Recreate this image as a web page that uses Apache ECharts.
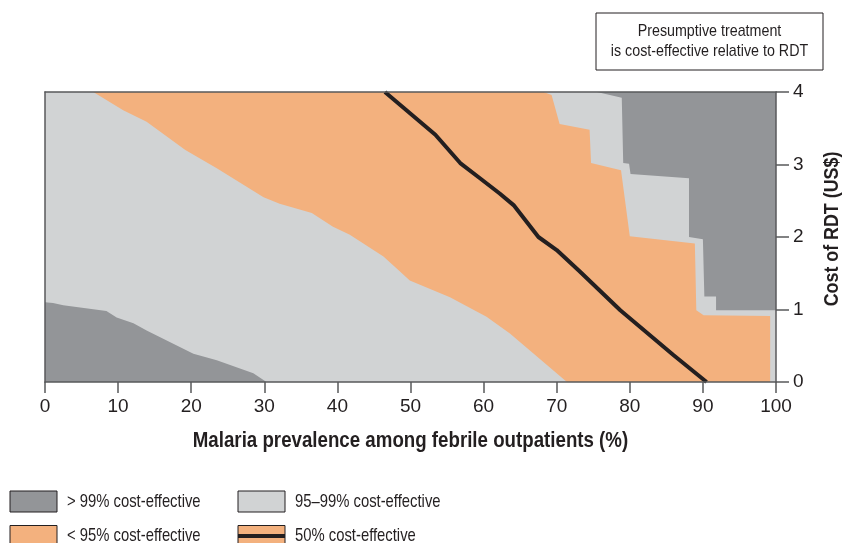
<!DOCTYPE html>
<html>
<head>
<meta charset="utf-8">
<script src="https://cdn.jsdelivr.net/npm/echarts@6/dist/echarts.min.js"></script>
<style>
  html, body { margin: 0; padding: 0; background: #fff; }
  #main { width: 845px; height: 543px; }
</style>
</head>
<body>
<div id="main"></div>
<script>
// x = malaria prevalence (%), y = cost of RDT (US$)
var xTicks = [0, 10, 20, 30, 40, 50, 60, 70, 80, 90, 100];
var yTicks = [0, 1, 2, 3, 4];

// 95-99% region covers the whole plot, the others sit on top of it
var band95 = [[0, 0], [100, 0], [100, 4], [0, 4]];

// <95% region: lower-left edge (top -> bottom) and right edge (top -> bottom)
var orangeLeft = [[6.6, 4], [10.7, 3.75], [13.9, 3.59], [19.2, 3.2], [23.5, 2.95], [29.9, 2.55],
  [32.1, 2.46], [36.5, 2.33], [39.4, 2.14], [41.7, 2.03], [46.3, 1.73], [48.6, 1.52],
  [49.9, 1.40], [55.4, 1.17], [60.4, 0.90], [63.6, 0.67], [71.4, 0]];
var orangeRight = [[68.2, 4], [69.3, 3.96], [70.4, 3.56], [74.5, 3.48], [74.7, 3.02], [78.8, 2.92],
  [80.0, 2.01], [88.9, 1.91], [89.1, 0.99], [90.1, 0.92], [99.2, 0.91], [99.2, 0]];

// >99% regions
var darkRight = [[75.5, 4], [78.9, 3.92], [79.1, 3.02], [79.9, 3.01], [80.1, 2.87], [88.1, 2.81],
  [88.1, 2.0], [90.0, 1.97], [90.2, 1.18], [91.8, 1.18], [91.8, 0.99], [100, 0.99], [100, 4]];
var darkLeft = [[0, 1.10], [1.1, 1.09], [2.5, 1.06], [8.4, 0.98], [9.8, 0.89], [12.1, 0.81],
  [13.9, 0.71], [20.3, 0.39], [23.5, 0.30], [28.5, 0.12], [30.3, 0], [0, 0]];

// 50% cost-effective line
var line50 = [[46.5, 4], [48.6, 3.82], [53.4, 3.41], [56.8, 3.02], [59.5, 2.81], [62.2, 2.60],
  [64.1, 2.44], [67.5, 2.0], [70.0, 1.82], [73.2, 1.52], [78.7, 0.99], [86.0, 0.37], [90.5, 0]];

var legendNames = ['> 99% cost-effective', '95–99% cost-effective', '< 95% cost-effective', '50% cost-effective'];

var cDark = '#939598', cLight = '#d1d3d4', cOrange = '#f3b17e', cInk = '#231f20', cAxis = '#58595b';
var font = '"Liberation Sans", Arial, sans-serif';

var orangePoly = orangeLeft.concat(orangeRight.slice().reverse());

function polySeries(name, pts, color) {
  return {
    type: 'custom',
    name: name,
    silent: true,
    clip: true,
    data: pts,
    encode: { x: 0, y: 1 },
    renderItem: function(params, api) {
      if (params.dataIndex !== 0) return null;
      return {
        type: 'polygon',
        shape: { points: pts.map(function(p) { return api.coord(p); }) },
        style: { fill: color }
      };
    }
  };
}

// condensed-looking text: squeeze a normal face horizontally
function narrowText(x, y, t, size, opts) {
  opts = opts || {};
  return {
    type: 'text', x: x, y: y, scaleX: opts.sx || 0.82, rotation: opts.rot || 0,
    style: { text: t, font: (opts.bold ? 'bold ' : '') + size + 'px ' + font, fill: cInk,
      align: opts.align || 'left', verticalAlign: 'middle', lineHeight: opts.lh || size }
  };
}

function box(x, y, w, h, text) {
  return {
    type: 'group',
    children: [
      { type: 'rect', shape: { x: x, y: y, width: w, height: h },
        style: { fill: '#fff', stroke: cInk, lineWidth: 1 } },
      narrowText(x + w / 2, y + h / 2, text, 17, { align: 'center', lh: 20, sx: 0.84 })
    ]
  };
}

function swatch(x, y, color, withLine) {
  var kids = [{ type: 'rect', shape: { x: x, y: y, width: 47, height: 21 },
    style: { fill: color, stroke: cInk, lineWidth: 1 } }];
  if (withLine) {
    kids.push({ type: 'rect', shape: { x: x, y: y + 8.5, width: 47, height: 4 }, style: { fill: cInk } });
  }
  return { type: 'group', children: kids };
}

var chart = echarts.init(document.getElementById('main'));
var option = {
  animation: false,
  grid: { left: 45, right: 69, top: 92, bottom: 161, outerBoundsMode: 'none', containLabel: false },
  xAxis: [{
    type: 'value', min: 0, max: 100, interval: 10, position: 'bottom', z: 10,
    axisLine: { show: true, onZero: false, lineStyle: { color: cAxis, width: 1.5 } },
    axisTick: { show: true, length: 11, lineStyle: { color: cAxis, width: 1.5 } },
    axisLabel: { fontFamily: font, fontSize: 19, color: cInk, margin: 15,
      formatter: function(v) { return xTicks.indexOf(v) >= 0 ? String(v) : ''; } },
    splitLine: { show: false }
  }, {
    type: 'value', min: 0, max: 100, position: 'top', z: 10,
    axisLine: { show: true, onZero: false, lineStyle: { color: cAxis, width: 1.5 } },
    axisTick: { show: false }, axisLabel: { show: false }, splitLine: { show: false }
  }],
  yAxis: [{
    type: 'value', min: 0, max: 4, interval: 1, position: 'right', z: 10,
    axisLine: { show: true, onZero: false, lineStyle: { color: cAxis, width: 1.5 } },
    axisTick: { show: true, length: 13, lineStyle: { color: cAxis, width: 1.5 } },
    axisLabel: { fontFamily: font, fontSize: 19, color: cInk, margin: 17,
      formatter: function(v) { return yTicks.indexOf(v) >= 0 ? String(v) : ''; } },
    splitLine: { show: false }
  }, {
    type: 'value', min: 0, max: 4, position: 'left', z: 10,
    axisLine: { show: true, onZero: false, lineStyle: { color: cAxis, width: 1.5 } },
    axisTick: { show: false }, axisLabel: { show: false }, splitLine: { show: false }
  }],
  series: [
    polySeries('95–99%', band95, cLight),
    polySeries('<95%', orangePoly, cOrange),
    polySeries('>99% right', darkRight, cDark),
    polySeries('>99% left', darkLeft, cDark),
    {
      type: 'line', name: '50%', data: line50, symbol: 'none', silent: true, z: 5,
      lineStyle: { color: cInk, width: 4 }
    }
  ],
  graphic: [
    narrowText(410.5, 441, 'Malaria prevalence among febrile outpatients (%)', 22, { bold: true, align: 'center', sx: 0.85 }),
    narrowText(832, 229, 'Cost of RDT (US$)', 21, { bold: true, align: 'center', sx: 0.85, rot: Math.PI / 2 }),
    box(93, 236, 243, 56, 'RDT is cost-effective\nrelative to presumptive treatment'),
    box(596, 13, 227, 57, 'Presumptive treatment\nis cost-effective relative to RDT'),
    swatch(10, 491, cDark, false), narrowText(67, 501.5, legendNames[0], 19, { sx: 0.78 }),
    swatch(238, 491, cLight, false), narrowText(295, 501.5, legendNames[1], 19, { sx: 0.78 }),
    swatch(10, 525.5, cOrange, false), narrowText(67, 535.5, legendNames[2], 19, { sx: 0.78 }),
    swatch(238, 525.5, cOrange, true), narrowText(295, 535.5, legendNames[3], 19, { sx: 0.78 })
  ]
};
chart.setOption(option);
</script>
</body>
</html>
